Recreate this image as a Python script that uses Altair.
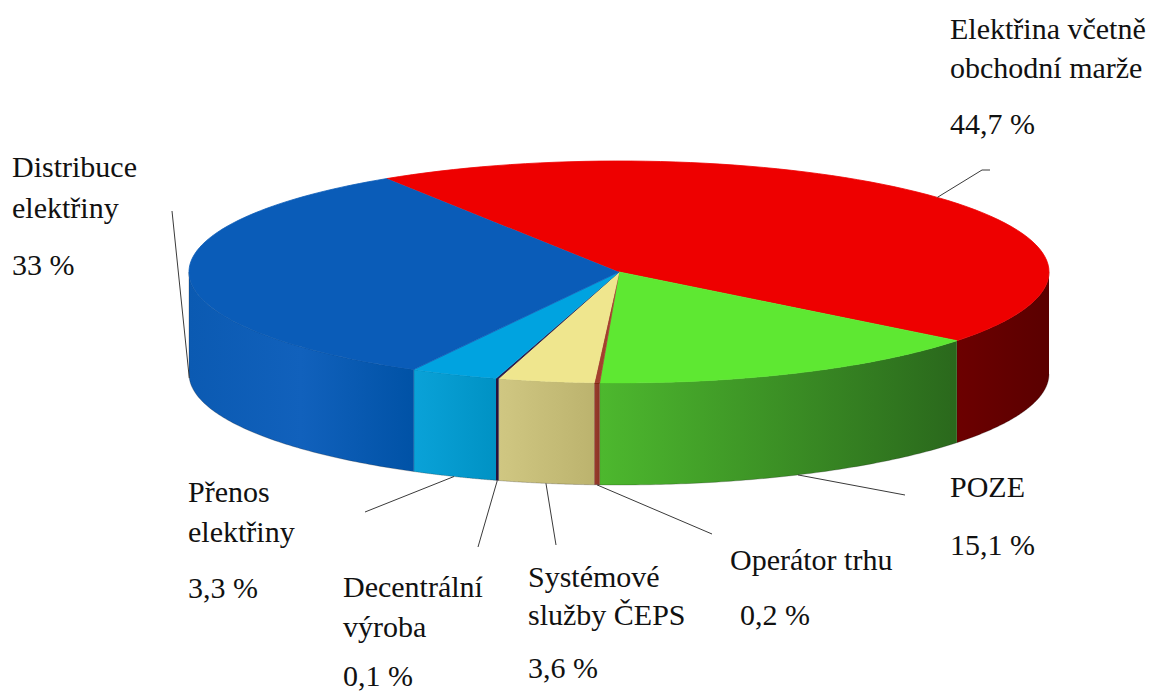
import altair as alt
import pandas as pd

# ---- data ----
CATEGORIES = ["Elektřina včetně obchodní marže", "POZE", "Operátor trhu",
              "Systémové služby ČEPS", "Decentrální výroba", "Přenos elektřiny",
              "Distribuce elektřiny"]
SHARES = [44.7, 15.1, 0.2, 3.6, 0.1, 3.3, 33.0]
LABEL_LINES = [["Elektřina včetně", "obchodní marže", "44,7 %"],
               ["POZE", "15,1 %"],
               ["Operátor trhu", "0,2 %"],
               ["Systémové", "služby ČEPS", "3,6 %"],
               ["Decentrální", "výroba", "0,1 %"],
               ["Přenos", "elektřiny", "3,3 %"],
               ["Distribuce", "elektřiny", "33 %"]]

# ---- styles ----
TOP_COLORS = ["#EE0000", "#5EE832", "#A3402E", "#EFE68E", "#2B1848", "#00A3E0", "#0A5CB8"]
WALL_STOPS = [
    [(0, "#6C0000"), (1, "#5A0000")],
    [(0, "#4DB82E"), (1, "#2A681C")],
    [(0, "#9A3C2C"), (1, "#8A3426")],
    [(0, "#D0C782"), (1, "#BCB36E")],
    [(0, "#2A1242"), (1, "#24103A")],
    [(0, "#0AA2D8"), (1, "#0092C4")],
    [(0, "#0B5AB2"), (0.5, "#1161BC"), (1, "#0052A6")],
]

# ---- layout (page pixel coordinates) ----
CX, CY, RX, RY, DEPTH = 619, 272, 430, 111, 102
START_DEG = 237.3
N = 80
LABEL_X = [[950, 950, 950], [950, 950], [730, 740], [528, 528, 528],
           [343, 343, 343], [188, 188, 188], [12, 12, 12]]
LABEL_Y = [[30, 69, 125], [488, 546], [561, 616], [578, 616, 669],
           [588, 628, 677], [493, 533, 589], [168, 209, 266]]
LEADER_ELBOW = [(982, 170), (905, 495), (712, 534), (556, 545), (478, 547),
                (365, 512), (172, 211)]
LEADER_END = [(990, 170), (905, 495), (712, 534), (556, 545), (478, 547),
              (365, 512), (172, 211)]
FONT = "Liberation Serif, Tinos, DejaVu Serif, serif"
FONT_SIZE = 30

xs = alt.Scale(domain=[8, 1153], nice=False, zero=False)
ys = alt.Scale(domain=[8, 691], nice=False, zero=False, reverse=True)

df = pd.DataFrame({"cat": CATEGORIES, "share": SHARES, "k": list(range(len(SHARES)))})
df["bx"] = [p[0] for p in LEADER_ELBOW]
df["by"] = [p[1] for p in LEADER_ELBOW]
df["ex"] = [p[0] for p in LEADER_END]
df["ey"] = [p[1] for p in LEADER_END]


def base():
    return (alt.Chart(df)
            .transform_joinaggregate(total="sum(share)")
            .transform_window(cum="sum(share)", sort=[alt.SortField("k")])
            .transform_calculate(
                a0=f"{START_DEG}*PI/180 + 2*PI*(datum.cum - datum.share)/datum.total",
                a1=f"{START_DEG}*PI/180 + 2*PI*datum.cum/datum.total"))


X = alt.X("px:Q", scale=xs, axis=None)
Y = alt.Y("py:Q", scale=ys, axis=None)

# side walls (front part only), one layer per slice for its own shading
walls = []
for k, stops in enumerate(WALL_STOPS):
    grad = alt.LinearGradient(
        gradient="linear", x1=0, x2=1, y1=0, y2=0,
        stops=[alt.GradientStop(offset=o, color=c) for o, c in stops])
    w = (base()
         .transform_filter(f"datum.k == {k}")
         .transform_calculate(lo="max(datum.a0, 2*PI)", hi="min(datum.a1, 3*PI)")
         .transform_filter("datum.hi > datum.lo")
         .transform_calculate(pts=f"sequence(0, {2 * N + 2})")
         .transform_flatten(["pts"], as_=["i"])
         .transform_calculate(
             j=f"datum.i <= {N} ? datum.i : {2 * N + 1} - datum.i")
         .transform_calculate(
             ang=f"datum.lo + (datum.hi - datum.lo) * datum.j / {N}")
         .transform_calculate(
             px=f"{CX} + {RX} * cos(datum.ang)",
             py=f"{CY} + {RY} * sin(datum.ang) + (datum.i > {N} ? {DEPTH} : 0)")
         .mark_line(filled=True, fill=grad, stroke="#1a1a1a", strokeOpacity=0.35,
                    strokeWidth=0.7)
         .encode(x=X, y=Y, order=alt.Order("i:Q")))
    walls.append(w)

# top face wedges
top = (base()
       .transform_calculate(pts=f"sequence(0, {N + 2})")
       .transform_flatten(["pts"], as_=["i"])
       .transform_calculate(ang=f"datum.a0 + (datum.a1 - datum.a0) * (datum.i - 1) / {N}")
       .transform_calculate(
           px=f"datum.i == 0 ? {CX} : {CX} + {RX} * cos(datum.ang)",
           py=f"datum.i == 0 ? {CY} : {CY} + {RY} * sin(datum.ang)")
       .mark_line(filled=True, strokeWidth=0.8)
       .encode(x=X, y=Y,
               color=alt.Color("cat:N", scale=alt.Scale(domain=CATEGORIES, range=TOP_COLORS),
                               legend=None),
               stroke=alt.Stroke("cat:N", scale=alt.Scale(domain=CATEGORIES, range=TOP_COLORS),
                                 legend=None),
               order=alt.Order("i:Q")))

# leader lines from slice mid-angle on the rim to the label
leaders = (base()
           .transform_calculate(m="(datum.a0 + datum.a1) / 2")
           .transform_calculate(
               sx=f"{CX} + {RX} * cos(datum.m)",
               sy=f"{CY} + {RY} * sin(datum.m) + (sin(datum.m) > 0 ? {DEPTH} : 0)")
           .transform_calculate(pts="sequence(0, 3)")
           .transform_flatten(["pts"], as_=["i"])
           .transform_calculate(
               px="datum.i == 0 ? datum.sx : (datum.i == 1 ? datum.bx : datum.ex)",
               py="datum.i == 0 ? datum.sy : (datum.i == 1 ? datum.by : datum.ey)")
           .mark_line(color="#3a3a3a", strokeWidth=1)
           .encode(x=X, y=Y, detail="cat:N", order=alt.Order("i:Q")))

rows = []
for lines, lxs, lys in zip(LABEL_LINES, LABEL_X, LABEL_Y):
    for t, lx, ly in zip(lines, lxs, lys):
        rows.append({"text": t, "px": lx, "py": ly})
texts = (alt.Chart(pd.DataFrame(rows))
         .mark_text(align="left", baseline="middle", font=FONT, fontSize=FONT_SIZE,
                    color="#111111")
         .encode(x=X, y=Y, text="text:N"))

chart = (alt.layer(*walls, top, leaders, texts)
         .properties(width=1145, height=683, padding=0,
                     autosize=alt.AutoSizeParams(type="none"))
         .configure(font=FONT)
         .configure_text(font=FONT)
         .configure_view(stroke=None))

chart.save("out.html", embed_options={"renderer": "svg", "actions": False})
